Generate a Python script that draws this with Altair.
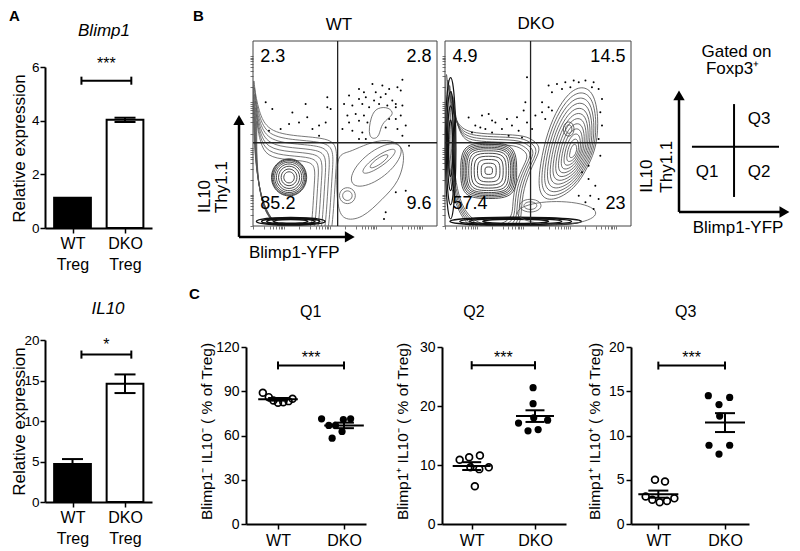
import numpy as np
import pandas as pd
import altair as alt

FONT = "Liberation Sans"

# ---------------- Panel A : qPCR bars ----------------
a_labels = ["WT Treg", "DKO Treg"]
a_pos = [1, 2]
blimp1_mean = [1.13, 4.03]
blimp1_sem = [0.0, 0.08]
il10_mean = [4.7, 14.6]
il10_sem = [0.6, 1.15]
a_bracket_x = [1.17, 2.12]

# ---------------- Panel C : dot plots ----------------
c_labels = ["WT", "DKO"]
q1_wt = [89.0, 86.0, 83.7, 82.2, 82.6, 83.3, 84.9]
q1_wt_off = [-0.23, -0.14, -0.07, 0.0, 0.08, 0.16, 0.22]
q1_dko = [71.3, 66.8, 66.8, 70.8, 71.3, 62.7, 58.2]
q1_dko_off = [-0.34, -0.23, -0.13, -0.01, 0.10, -0.03, -0.18]

q2_wt = [10.9, 11.3, 11.6, 9.6, 9.3, 9.6, 6.4]
q2_wt_off = [-0.19, -0.04, 0.13, -0.02, 0.12, 0.27, 0.05]
q2_dko = [23.1, 20.4, 17.1, 18.0, 17.6, 15.8, 16.0]
q2_dko_off = [-0.03, -0.03, -0.26, -0.02, 0.20, -0.11, 0.05]

q3_wt = [5.0, 4.8, 3.1, 2.75, 2.45, 2.6, 2.9]
q3_wt_off = [-0.05, 0.10, -0.19, -0.09, 0.02, 0.13, 0.24]
q3_dko = [14.5, 14.3, 13.5, 12.2, 8.9, 8.9, 7.9]
q3_dko_off = [-0.25, 0.07, -0.09, -0.08, -0.24, 0.07, -0.09]

# ---------------- Panel B : flow plots ----------------
gate_x = 46
gate_y = 45
wt_quad = ["2.3", "2.8", "85.2", "9.6"]      # UL, UR, LL, LR
dko_quad = ["4.9", "14.5", "57.4", "23"]
flow_ticks = [0, 6, 9, 11, 12.5, 14, 15, 16, 17, 25, 31, 34, 36, 37.5, 39, 40, 41, 42,
              50, 56, 59, 61, 62.5, 64, 65, 66, 67, 75, 81, 84, 86, 87.5, 89, 90, 91, 92]

wt_dots_x = [64.9, 81.2, 57.6, 60.3, 66.7, 70.3, 74.0, 78.5, 80.3, 52.2, 57.6, 61.3, 65.8, 69.4, 72.1,
             75.7, 77.6, 49.5, 54.0, 59.4, 63.1, 68.5, 73.0, 77.6, 81.2, 51.3, 55.8, 60.3, 52.2, 57.6,
             62.2, 74.0, 77.6, 80.3, 83.0, 48.6, 54.0, 59.4, 72.1, 78.5, 81.2, 57.6, 61.3, 84.8,
             6.9, 10.5, 21.4, 28.6, 40.4, 40.4, 42.2, 15.0, 19.6, 25.0, 29.5, 32.3, 35.9, 39.5, 35.9, 8.7,
             83.0, 72.1, 71.2, 77.6]
wt_dots_y = [76.8, 79.1, 74.1, 72.3, 72.3, 75.9, 74.1, 75.0, 73.2, 70.5, 68.7, 69.6, 67.8, 69.6, 71.4,
             67.8, 66.0, 66.0, 65.1, 66.0, 64.2, 66.0, 65.1, 64.2, 65.1, 59.7, 60.6, 59.7, 56.0, 56.9,
             56.0, 57.9, 57.9, 59.7, 54.3, 52.4, 51.5, 50.6, 53.3, 52.4, 48.8, 47.0, 47.0, 43.4,
             66.9, 63.3, 61.4, 66.0, 69.6, 64.2, 63.3, 52.4, 55.1, 56.0, 58.8, 52.4, 54.3, 56.0, 48.8, 51.5,
             19.1, 7.4, 3.8, 18.2]
dko_dots_x = [44.1, 55.7, 60.2, 64.7, 69.2, 71.9, 75.5, 79.9, 82.6, 57.5, 62.9, 67.4, 79.0, 52.2, 55.7,
              52.2, 53.9, 57.5, 84.4, 83.5, 84.4, 82.6,
              12.7, 16.3, 19.9, 23.5, 27.1, 30.6, 33.3, 36.0, 38.7, 39.6, 42.3, 44.1, 46.8, 48.6, 14.5,
              21.7, 25.3, 34.2, 41.4, 43.2, 25.3, 19.0,
              73.7, 77.2, 80.8, 78.1, 75.5, 82.6, 79.9, 77.2, 83.5, 71.9]
dko_dots_y = [80.4, 75.9, 76.8, 77.7, 78.6, 77.7, 78.6, 77.7, 74.1, 72.3, 74.1, 75.0, 75.0, 66.9, 64.2,
              61.5, 57.9, 62.4, 68.7, 61.5, 54.3, 47.0,
              58.7, 54.3, 59.7, 60.6, 56.0, 52.4, 57.9, 54.3, 58.8, 51.5, 62.4, 56.0, 52.4, 59.7, 50.6,
              52.4, 50.6, 48.8, 47.9, 66.9, 57.0, 53.3,
              29.0, 25.4, 21.8, 16.4, 12.8, 14.6, 9.2, 32.6, 38.0, 16.4]

# contour outlines (control points in the plot's data units)
wt_q1_env = [(0.3, 85), (0.5, 76), (3, 62), (8, 51), (24, 48.5), (41, 47.5), (46, 43), (45, 30),
             (44, 12), (43, 0), (42, -6), (0.3, -6)]
wt_q2_env = [(45.9, 38.9), (52.2, 39.8), (59.4, 43.4), (70.3, 47.0), (79.4, 45.2), (83.0, 38.0),
             (79.4, 23.6), (70.3, 14.6), (59.4, 3.8), (48.6, 2.9), (45.9, 11.0), (45.3, 25.4)]
wt_hook = [(62.2, 47), (64, 59.7), (67.6, 64.2), (74, 64.2), (76.7, 60.6), (73, 57.9), (69.4, 54.3), (68.5, 47)]
dko_q1_env = [(0.3, 88), (1, 80), (3, 66), (7, 53), (16, 50), (30, 49.5), (43, 49), (48, 46), (52, 42),
              (47, 33), (42, 20), (41, 8), (40, -6), (0.3, -6)]
dko_tear = [(73.7, 75.9), (79.9, 72.3), (82.6, 59.7), (81.7, 43.4), (77.2, 32.6), (70.1, 20.0),
            (57.5, 12.8), (50.4, 16.4), (50.4, 29.0), (53.9, 47.0), (59.3, 61.5), (66.5, 72.3)]


def ell(cx, cy, rx, ry, ang=0.0, n=12):
    t = np.arange(n) * 2 * np.pi / n
    a = np.deg2rad(ang)
    xs = cx + rx * np.cos(t) * np.cos(a) - ry * np.sin(t) * np.sin(a)
    ys = cy + rx * np.cos(t) * np.sin(a) + ry * np.sin(t) * np.cos(a)
    return list(zip(xs, ys))


def rsq(cx, cy, rx, ry):
    return [(cx - rx, cy - ry), (cx, cy - ry * 1.05), (cx + rx, cy - ry), (cx + rx * 1.05, cy),
            (cx + rx, cy + ry), (cx, cy + ry * 1.05), (cx - rx, cy + ry), (cx - rx * 1.05, cy)]


def family(name, pts, center, scales, color, width):
    rows = []
    cx, cy = center
    for k, s in enumerate(scales):
        for i, (px, py) in enumerate(pts):
            rows.append({"ring": f"{name}{k}", "i": i, "x": cx + s * (px - cx),
                         "y": cy + s * (py - cy), "c": color, "w": width})
    return rows


wt_rows = (
    family("wenv", wt_q1_env, (6, 6), [1.0, 0.95, 0.9, 0.85, 0.8, 0.75, 0.7], "#555", 0.8)
    + family("wring", ell(19.6, 26.3, 10, 10.5), (19.6, 26.3), [0.3, 0.45, 0.6, 0.72, 0.82, 0.9, 0.96, 1.0], "#333", 0.9)
    + family("wband", ell(20.5, 2.5, 19.5, 2.2), (20.5, 2.5), [0.5, 0.7, 0.85, 1.0], "#111", 1.4)
    + family("wq2in", ell(68.5, 35, 11, 3, 35), (68.5, 35), [0.55, 1.0], "#555", 0.8)
    + family("wq2mid", ell(67, 33, 17, 7.5, 38), (67, 33), [1.0], "#555", 0.8)
    + family("wq2env", wt_q2_env, (66, 28), [1.0], "#555", 0.8)
    + family("wsmall", ell(51.3, 16.4, 4.5, 4.5), (51.3, 16.4), [0.6, 1.0], "#555", 0.8)
    + family("whook", wt_hook, (69, 55), [1.0], "#555", 0.8)
)
dko_rows = (
    family("denv", dko_q1_env, (18, 22), [1.0, 0.95, 0.9, 0.85, 0.8], "#444", 0.8)
    + family("dring", rsq(23.5, 29.9, 13, 13), (23.5, 29.9),
             [0.15, 0.3, 0.45, 0.58, 0.7, 0.8, 0.88, 0.94, 1.0, 1.06, 1.12], "#333", 0.9)
    + family("dleft", ell(3, 42, 3, 40), (3, 42), [0.4, 0.6, 0.8, 1.0], "#111", 1.2)
    + family("dband", ell(38, 2.5, 37, 2.4), (38, 2.5), [0.5, 0.7, 0.85, 1.0], "#111", 1.4)
    + family("dtear", dko_tear, (69.2, 40), [1.0, 0.92, 0.84, 0.76, 0.68, 0.6, 0.52, 0.44, 0.36, 0.28, 0.2, 0.12], "#444", 0.8)
    + family("dpk", ell(66.5, 52.4, 3, 4), (66.5, 52.4), [0.6, 1.0], "#444", 0.8)
    + family("dsmall", ell(45.9, 11, 6, 3.6), (45.9, 11), [0.6, 1.0], "#555", 0.8)
    + family("dbot", ell(60, 7, 22, 6.5), (60, 7), [1.0], "#555", 0.8)
)


def txt(**kw):
    base = dict(font=FONT, color="black")
    base.update(kw)
    return base


def letter(xenc, yenc, x, y, t):
    return alt.Chart(pd.DataFrame({"x": [x], "y": [y], "t": [t]})).mark_text(
        **txt(fontSize=15, fontWeight="bold", align="left", baseline="alphabetic")
    ).encode(x=xenc, y=yenc, text="t:N")


def heading(xenc, yenc, x, y, t, size, italic=False):
    kw = dict(fontSize=size, align="center", baseline="middle")
    if italic:
        kw["fontStyle"] = "italic"
    return alt.Chart(pd.DataFrame({"x": [x], "y": [y], "t": [t]})).mark_text(**txt(**kw)).encode(
        x=xenc, y=yenc, text="t:N")


# ---------------- builders ----------------
def spacer(w, h):
    xs = alt.X("x:Q", axis=None, scale=alt.Scale(domain=[0, 1], nice=False, zero=False))
    ys = alt.Y("y:Q", axis=None, scale=alt.Scale(domain=[0, 1], nice=False, zero=False))
    return alt.Chart(pd.DataFrame({"x": [0.0], "y": [0.0]})).mark_point(opacity=0).encode(
        x=xs, y=ys).properties(width=w, height=h)


def bar_panel(title, title_xy, means, sems, ymax, yticks, br_y, br_d, star, star_y, h, yrange,
              title_y, extra=None):
    xs = alt.Scale(domain=[0.476, 2.514], nice=False, zero=False)
    ys = alt.Scale(domain=[0, ymax], nice=False, zero=False, range=yrange)
    lab_expr = (f"split(datum.value == 1 ? '{a_labels[0]}' : '{a_labels[1]}', ' ')")
    xenc = alt.X("x:Q", scale=xs, axis=alt.Axis(values=a_pos, labelExpr=lab_expr, title=None,
                                                labelFontSize=16, labelLineHeight=21, labelPadding=2,
                                                labelFlush=False))
    yax = dict(values=yticks, title="Relative expression", titleFontSize=17, titleX=-17,
               labelPadding=1, labelFontSize=13.5)
    if title_y is not None:
        yax["titleY"] = title_y
    yenc = alt.Y("y:Q", scale=ys, axis=alt.Axis(**yax))
    bars = pd.DataFrame({"x": [p - 0.35 for p in a_pos], "x2": [p + 0.35 for p in a_pos],
                         "y": means, "y2": [0, 0], "f": ["black", "white"]})
    l_bars = alt.Chart(bars).mark_rect(stroke="black", strokeWidth=2).encode(
        x=xenc, x2="x2:Q", y=yenc, y2="y2:Q", fill=alt.Fill("f:N", scale=None))
    err = [(p, m, s) for p, m, s in zip(a_pos, means, sems) if s > 0]
    ev = pd.DataFrame({"x": [e[0] for e in err], "y": [e[1] - e[2] for e in err],
                       "y2": [e[1] + e[2] for e in err]})
    caps = pd.DataFrame({"x": [e[0] - 0.2 for e in err] * 2, "x2": [e[0] + 0.2 for e in err] * 2,
                         "y": [e[1] + e[2] for e in err] + [e[1] - e[2] for e in err]})
    l_ev = alt.Chart(ev).mark_rule(color="black", strokeWidth=2).encode(x=xenc, y=yenc, y2="y2:Q")
    l_caps = alt.Chart(caps).mark_rule(color="black", strokeWidth=2).encode(x=xenc, x2="x2:Q", y=yenc)
    br = pd.DataFrame({"x": [a_bracket_x[0]], "x2": [a_bracket_x[1]], "y": [br_y]})
    brc = pd.DataFrame({"x": a_bracket_x, "y": [br_y - br_d] * 2, "y2": [br_y + br_d] * 2})
    l_br = alt.Chart(br).mark_rule(color="black", strokeWidth=2).encode(x=xenc, x2="x2:Q", y=yenc)
    l_brc = alt.Chart(brc).mark_rule(color="black", strokeWidth=2).encode(x=xenc, y=yenc, y2="y2:Q")
    st = pd.DataFrame({"x": [sum(a_bracket_x) / 2], "y": [star_y], "t": [star]})
    l_st = alt.Chart(st).mark_text(**txt(fontSize=16, baseline="middle")).encode(x=xenc, y=yenc, text="t:N")
    layers = [l_bars, l_ev, l_caps, l_br, l_brc, l_st,
              heading(xenc, yenc, title_xy[0], title_xy[1], title, 17, italic=True)]
    if extra:
        layers.append(letter(xenc, yenc, *extra))
    return alt.layer(*layers).properties(width=107, height=h)


def dot_panel(title, title_xy, ytitle, title_x, ymax, yticks, wt, wt_off, dko, dko_off,
              br_y, br_d, star_y, xdom, width, extra=None):
    xs = alt.Scale(domain=xdom, nice=False, zero=False)
    ys = alt.Scale(domain=[0, ymax], nice=False, zero=False, range=[184, 7])
    xenc = alt.X("x:Q", scale=xs, axis=alt.Axis(
        values=[1, 2], labelExpr=f"datum.value == 1 ? '{c_labels[0]}' : '{c_labels[1]}'",
        title=None, labelFontSize=16, labelPadding=3, labelFlush=False))
    yenc = alt.Y("y:Q", scale=ys, axis=alt.Axis(values=yticks, title=ytitle, titleX=title_x,
                                                titleY=91, titleFontSize=15.5, labelFontSize=14))
    p_wt = pd.DataFrame({"x": [1 + o for o in wt_off], "y": wt})
    p_dko = pd.DataFrame({"x": [2 + o for o in dko_off], "y": dko})
    stats = []
    for g, v in ((1, wt), (2, dko)):
        a = np.array(v, dtype=float)
        stats.append((g, a.mean(), a.std(ddof=1) / np.sqrt(len(a))))
    mean_df = pd.DataFrame({"x": [g - 0.3 for g, m, s in stats], "x2": [g + 0.3 for g, m, s in stats],
                            "y": [m for g, m, s in stats]})
    sem_df = pd.DataFrame({"x": [g for g, m, s in stats], "y": [m - s for g, m, s in stats],
                           "y2": [m + s for g, m, s in stats]})
    cap_df = pd.DataFrame({"x": [g - 0.15 for g, m, s in stats] * 2, "x2": [g + 0.15 for g, m, s in stats] * 2,
                           "y": [m + s for g, m, s in stats] + [m - s for g, m, s in stats]})
    l1 = alt.Chart(p_wt).mark_point(shape="circle", filled=False, size=46, strokeWidth=1.7,
                                    color="black", opacity=1).encode(x=xenc, y=yenc)
    l2 = alt.Chart(p_dko).mark_circle(size=52, color="black", opacity=1).encode(x=xenc, y=yenc)
    l3 = alt.Chart(mean_df).mark_rule(color="black", strokeWidth=2).encode(x=xenc, x2="x2:Q", y=yenc)
    l4 = alt.Chart(sem_df).mark_rule(color="black", strokeWidth=2).encode(x=xenc, y=yenc, y2="y2:Q")
    l5 = alt.Chart(cap_df).mark_rule(color="black", strokeWidth=2).encode(x=xenc, x2="x2:Q", y=yenc)
    br = pd.DataFrame({"x": [1], "x2": [2], "y": [br_y]})
    brc = pd.DataFrame({"x": [1, 2], "y": [br_y - br_d] * 2, "y2": [br_y + br_d] * 2})
    l6 = alt.Chart(br).mark_rule(color="black", strokeWidth=2).encode(x=xenc, x2="x2:Q", y=yenc)
    l7 = alt.Chart(brc).mark_rule(color="black", strokeWidth=2).encode(x=xenc, y=yenc, y2="y2:Q")
    st = pd.DataFrame({"x": [1.5], "y": [star_y], "t": ["***"]})
    l8 = alt.Chart(st).mark_text(**txt(fontSize=16, baseline="middle")).encode(x=xenc, y=yenc, text="t:N")
    layers = [l1, l2, l3, l4, l5, l6, l7, l8, heading(xenc, yenc, title_xy[0], title_xy[1], title, 16)]
    if extra:
        layers.append(letter(xenc, yenc, *extra))
    return alt.layer(*layers).properties(width=width, height=184)


def flow_panel(title, title_xy, dx_, dy_, rows, quad, arrows, width, left):
    xs = alt.Scale(domain=[0, 100], nice=False, zero=False, range=[left, width])
    ys = alt.Scale(domain=[0, 100], nice=False, zero=False)
    ax = dict(values=flow_ticks, labels=False, domain=False, ticks=True, tickSize=3,
              tickColor="#555", tickWidth=0.8, title=None, grid=False)
    xenc = alt.X("x:Q", scale=xs, axis=alt.Axis(**ax))
    yenc = alt.Y("y:Q", scale=ys, axis=alt.Axis(offset=-left, **ax))
    frame = alt.Chart(pd.DataFrame({"x": [0], "x2": [100], "y": [0], "y2": [100]})).mark_rect(
        fillOpacity=0, stroke="#444", strokeWidth=1).encode(x=xenc, x2="x2:Q", y=yenc, y2="y2:Q")
    cont = alt.Chart(pd.DataFrame(rows)).mark_line(interpolate="basis-closed", clip=True).encode(
        x=xenc, y=yenc, detail="ring:N", order="i:Q",
        color=alt.Color("c:N", scale=None), strokeWidth=alt.StrokeWidth("w:Q", scale=None))
    dots = alt.Chart(pd.DataFrame({"x": dx_, "y": dy_})).mark_circle(
        size=4, color="black", opacity=1).encode(x=xenc, y=yenc)
    gate = alt.Chart(pd.DataFrame({"x": [gate_x, 0], "x2": [gate_x, 100], "y": [0, gate_y],
                                   "y2": [100, gate_y]})).mark_rule(color="#222", strokeWidth=1.3).encode(
        x=xenc, x2="x2:Q", y=yenc, y2="y2:Q")
    ql = alt.Chart(pd.DataFrame({"x": [4, 4], "y": [91.2, 11.9], "t": [quad[0], quad[2]]})).mark_text(
        **txt(fontSize=18, align="left", baseline="middle")).encode(x=xenc, y=yenc, text="t:N")
    qr = alt.Chart(pd.DataFrame({"x": [97, 97], "y": [91.2, 11.9], "t": [quad[1], quad[3]]})).mark_text(
        **txt(fontSize=18, align="right", baseline="middle")).encode(x=xenc, y=yenc, text="t:N")
    layers = [cont, frame, dots, gate, ql, qr, heading(xenc, yenc, title_xy[0], title_xy[1], title, 17)]
    if arrows:
        av = pd.DataFrame({"x": [-7.6], "y": [-5.9], "y2": [57.5]})
        ah = pd.DataFrame({"x": [-7.6], "x2": [53], "y": [-5.9]})
        layers.append(alt.Chart(av).mark_rule(color="black", strokeWidth=2.5).encode(x=xenc, y=yenc, y2="y2:Q"))
        layers.append(alt.Chart(ah).mark_rule(color="black", strokeWidth=2.5).encode(x=xenc, x2="x2:Q", y=yenc))
        layers.append(alt.Chart(pd.DataFrame({"x": [-7.6], "y": [57.3]})).mark_point(
            shape="triangle-up", filled=True, size=130, color="black", opacity=1).encode(x=xenc, y=yenc))
        layers.append(alt.Chart(pd.DataFrame({"x": [52.6], "y": [-5.9]})).mark_point(
            shape="triangle-right", filled=True, size=130, color="black", opacity=1).encode(x=xenc, y=yenc))
        layers.append(alt.Chart(pd.DataFrame({"x": [-2.2], "y": [-14.5], "t": ["Blimp1-YFP"]})).mark_text(
            **txt(fontSize=17, align="left", baseline="middle")).encode(x=xenc, y=yenc, text="t:N"))
        layers.append(alt.Chart(pd.DataFrame({"x": [-26.2, -16.8], "y": [7, 7], "t": ["IL10", "Thy1.1"]})).mark_text(
            **txt(fontSize=17, align="left", baseline="middle", angle=270)).encode(x=xenc, y=yenc, text="t:N"))
        layers.append(letter(xenc, yenc, -32.6, 110.8, "B"))
    return alt.layer(*layers).properties(width=width, height=185)


def schematic():
    xs = alt.Scale(domain=[0, 100], nice=False, zero=False)
    ys = alt.Scale(domain=[0, 100], nice=False, zero=False)
    xenc = alt.X("x:Q", scale=xs, axis=None)
    yenc = alt.Y("y:Q", scale=ys, axis=None)
    vr = pd.DataFrame({"x": [30, 64.4], "y": [7.6, 15.7], "y2": [70.8, 65.9], "w": [2.5, 2]})
    hr = pd.DataFrame({"x": [30, 38.1], "x2": [96, 92.5], "y": [7.6, 42.9], "w": [2.5, 2]})
    l1 = alt.Chart(vr).mark_rule(color="black").encode(x=xenc, y=yenc, y2="y2:Q",
                                                       strokeWidth=alt.StrokeWidth("w:Q", scale=None))
    l2 = alt.Chart(hr).mark_rule(color="black").encode(x=xenc, x2="x2:Q", y=yenc,
                                                       strokeWidth=alt.StrokeWidth("w:Q", scale=None))
    l3 = alt.Chart(pd.DataFrame({"x": [30], "y": [70.6]})).mark_point(
        shape="triangle-up", filled=True, size=130, color="black", opacity=1).encode(x=xenc, y=yenc)
    l4 = alt.Chart(pd.DataFrame({"x": [95.9], "y": [7.6]})).mark_point(
        shape="triangle-right", filled=True, size=130, color="black", opacity=1).encode(x=xenc, y=yenc)
    qt = pd.DataFrame({"x": [80, 47.5, 80, 65.9, 63.5, 66.9],
                       "y": [57.8, 29.2, 29.2, 94.3, 84.6, -1.1],
                       "t": ["Q3", "Q1", "Q2", "Gated on", "Foxp3\u207a", "Blimp1-YFP"]})
    l5 = alt.Chart(qt).mark_text(**txt(fontSize=17, align="center", baseline="middle")).encode(
        x=xenc, y=yenc, text="t:N")
    rt = pd.DataFrame({"x": [10, 22.7], "y": [18, 18], "t": ["IL10", "Thy1.1"]})
    l6 = alt.Chart(rt).mark_text(**txt(fontSize=17, align="left", baseline="middle", angle=270)).encode(
        x=xenc, y=yenc, text="t:N")
    return alt.layer(l1, l2, l3, l4, l5, l6).properties(width=160, height=185)


A_top = bar_panel("Blimp1", (1.60, 7.34), blimp1_mean, blimp1_sem, 6, [0, 2, 4, 6], 5.49, 0.15, "***", 6.13,
                  187, [187, 26], 107, extra=(-0.210, 7.715, "A"))
A_bot = bar_panel("IL10", (1.676, 23.83), il10_mean, il10_sem, 20, [0, 5, 10, 15, 20], 18.2, 0.5, "*", 19.36,
                  162, [162, 0], None)

WT = flow_panel("WT", (46.7, 108.6), wt_dots_x, wt_dots_y, wt_rows, wt_quad, True, 191, 7)
DKO = flow_panel("DKO", (48.9, 109.2), dko_dots_x, dko_dots_y, dko_rows, dko_quad, False, 189, 3)
SCH = schematic()

Q1 = dot_panel("Q1", (1.495, 143.7), "Blimp1\u207b IL10\u207b ( % of Treg)", -32, 120, [0, 30, 60, 90, 120],
               q1_wt, q1_wt_off, q1_dko, q1_dko_off, 107.5, 2.7, 112.4, [0.515, 2.333], 120,
               extra=(-0.349, 152.5, "C"))
Q2 = dot_panel("Q2", (1.037, 35.93), "Blimp1\u207a IL10\u207b ( % of Treg)", -32, 30, [0, 10, 20, 30],
               q2_wt, q2_wt_off, q2_dko, q2_dko_off, 26.9, 0.7, 28.1, [0.531, 2.49], 124)
Q3 = dot_panel("Q3", (1.41, 23.95), "Blimp1\u207a IL10\u207a ( % of Treg)", -29, 20, [0, 5, 10, 15, 20],
               q3_wt, q3_wt_off, q3_dko, q3_dko_off, 17.9, 0.45, 18.74, [0.59, 2.36], 118)

# grid: 3 rows x 5 columns; columns start at A, Q1/WT, gap, Q2/DKO, Q3/schematic
cells = [
    A_top, WT, spacer(5, 1), DKO, SCH,
    spacer(201, 112), spacer(1, 1), spacer(1, 1), spacer(1, 1), spacer(1, 1),
    A_bot, Q1, spacer(1, 1), Q2, Q3,
]

chart = alt.concat(*cells, columns=5, spacing=0, align="each", bounds="flush").properties(
    padding={"left": 0, "top": 0, "right": 0, "bottom": 0}
).configure_view(stroke=None).configure_axis(
    labelFont=FONT, titleFont=FONT, labelColor="black", titleColor="black",
    domainColor="black", tickColor="black", domainWidth=2, tickWidth=1.5, tickSize=5,
    grid=False, titleFontWeight="normal", labelFontSize=14, titleFontSize=16
).configure_title(font=FONT, color="black", fontWeight="normal", anchor="middle")

chart.save("out.html", embed_options={"renderer": "svg", "actions": False})
